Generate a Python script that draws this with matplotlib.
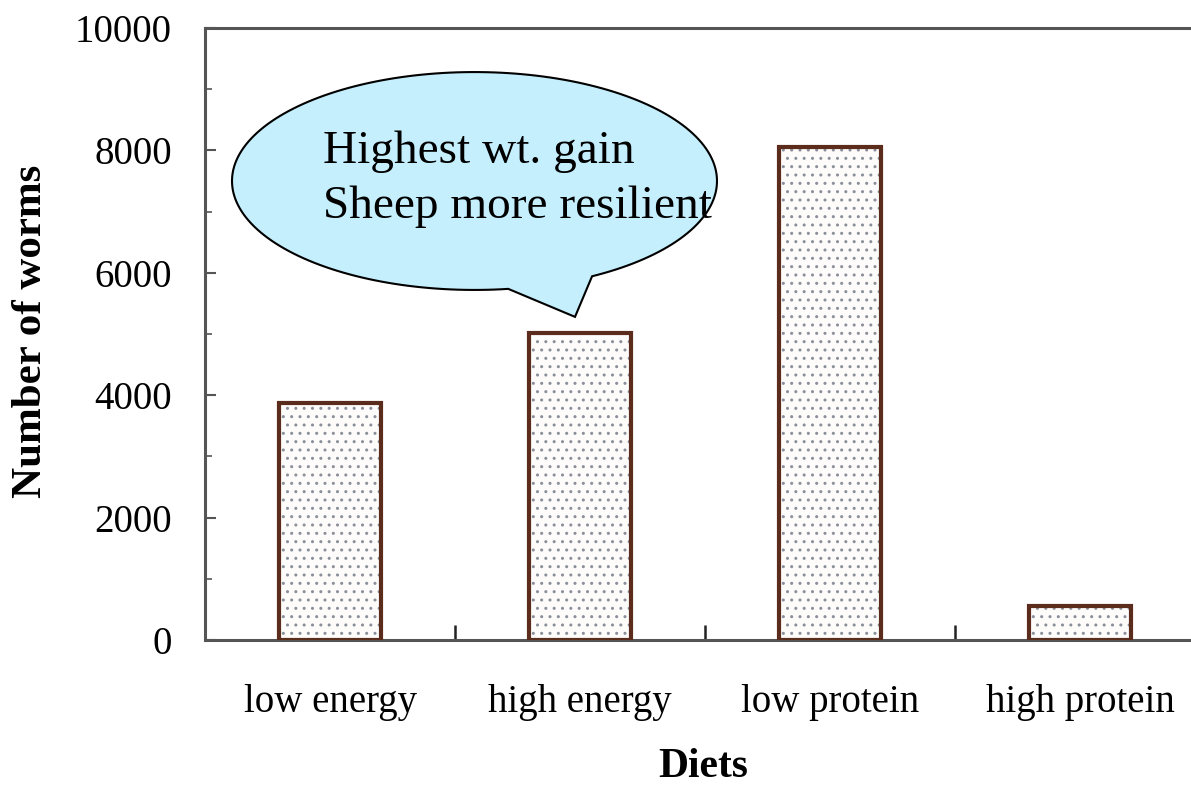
import numpy as np
import matplotlib
matplotlib.use('Agg')
import matplotlib.pyplot as plt
from matplotlib.patches import Polygon

# data
diets = ['low energy', 'high energy', 'low protein', 'high protein']
worms = [3870, 5010, 8050, 550]
yticks = [0, 2000, 4000, 6000, 8000, 10000]
callout_text = 'Highest wt. gain\nSheep more resilient'

plt.rcParams['font.family'] = ['Liberation Serif', 'DejaVu Serif']

W, H = 1191, 788
fig = plt.figure(figsize=(W/100, H/100), dpi=100)
ax = fig.add_axes([205/W, 148/H, 1000/W, 612/H])

x = np.arange(len(diets)) + 0.5
# hatched fill, then brown outline on top
ax.bar(x, worms, width=0.41, color='#fdfcfa', edgecolor='#8a8f99',
       hatch='..', linewidth=0, zorder=2)
ax.bar(x, worms, width=0.41, color='none', edgecolor='#5b2c1c',
       linewidth=3, zorder=3)

ax.set_xlim(0, 4)
ax.set_ylim(0, 10000)
ax.set_yticks(yticks)
ax.set_yticks(np.arange(1000, 10000, 2000), minor=True)
ax.set_xticks(x)
ax.set_xticklabels(diets)
ax.set_xticks([1, 2, 3], minor=True)

ax.tick_params(axis='y', which='major', direction='in', length=8, width=1.5,
               color='#555555', labelsize=28, pad=24)
ax.tick_params(axis='y', which='minor', direction='in', length=5, width=1.2,
               color='#555555')
ax.tick_params(axis='x', which='major', length=0, labelsize=28, pad=32)
ax.tick_params(axis='x', which='minor', direction='in', length=11, width=1.8,
               color='#222222')

for s in ['left', 'bottom', 'top']:
    ax.spines[s].set_color('#555555')
    ax.spines[s].set_linewidth(2.2)
ax.spines['right'].set_visible(False)

fig.text(31/W, 1 - 331/H, 'Number of worms', rotation=90, fontsize=31,
         fontweight='bold', ha='center', va='center')
fig.text(703/W, 1 - 777/H, 'Diets', fontsize=30, fontweight='bold',
         ha='center', va='baseline')

# callout bubble: ellipse with a pointer, in data coords
cx, cy, a, b = 1.078, 7500, 0.970, 1780
t1, t2 = np.deg2rad(-61), np.deg2rad(278)
t = np.linspace(t1, t2, 200)
pts = list(zip(cx + a*np.cos(t), cy + b*np.sin(t)))
pts.append((1.48, 5280))
bubble = Polygon(pts, closed=True, facecolor='#c5effd', edgecolor='black',
                 linewidth=1.5, zorder=5)
ax.add_patch(bubble)
ax.text(0.472, 6896, callout_text, fontsize=34, ha='left', va='baseline',
        linespacing=1.37, zorder=6)

fig.savefig('out.png', dpi=100)
